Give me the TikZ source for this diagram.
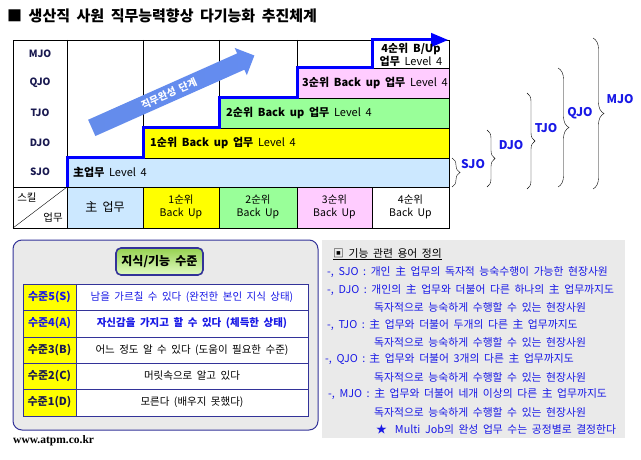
\documentclass[tikz,border=0pt]{standalone}
\usepackage{fontspec}
\setmainfont{Noto Sans CJK KR}[WordSpace=1.9]
\newfontfamily\webfont{Liberation Serif}
\usepackage{tikz}
\usetikzlibrary{arrows}
\usetikzlibrary{shapes.arrows}
\usetikzlibrary{decorations.pathreplacing}

\definecolor{skyfill}{RGB}{204,232,255}
\definecolor{yelfill}{RGB}{255,255,0}
\definecolor{grnfill}{RGB}{153,255,153}
\definecolor{pnkfill}{RGB}{255,204,255}
\definecolor{navy}{RGB}{51,51,153}
\definecolor{txtblue}{RGB}{25,25,230}
\definecolor{rowlab}{RGB}{25,25,80}
\definecolor{panel}{RGB}{234,234,234}

\begin{document}
\begin{tikzpicture}[x=1pt,y=-1pt,
	rowname/.style={font=\fontsize{10}{12}\selectfont\bfseries,text=rowlab},
	bartxt/.style={anchor=west,inner sep=0pt,font=\fontsize{11}{13}\selectfont},
	headtxt/.style={align=center,inner sep=0pt,font=\fontsize{10.5}{13}\selectfont},
	joname/.style={font=\fontsize{12}{14}\selectfont\bfseries,text=txtblue},
	jobrace/.style={decorate,decoration={brace,amplitude=8pt}},
	lvname/.style={font=\fontsize{11}{13}\selectfont\bfseries},
	lvdesc/.style={font=\fontsize{10.5}{12}\selectfont},
	defline/.style={anchor=west,inner sep=0pt,text=txtblue,font=\fontsize{10.8}{12}\selectfont}]

	\useasboundingbox[fill=white] (0,0) rectangle (641,460);

	\node[anchor=west,inner sep=0pt,font=\fontsize{15}{18}\selectfont\bfseries](title) at (7,16) {■ 생산직 사원 직무능력향상 다기능화 추진체계};

	% chart
	\fill[skyfill] (67,158) rectangle (449,187);
	\fill[yelfill] (143,128) rectangle (449,158);
	\fill[grnfill] (219,98) rectangle (449,128);
	\fill[pnkfill] (297,68) rectangle (449,98);
	\fill[skyfill] (67,187) rectangle (143,228);
	\fill[yelfill] (143,187) rectangle (219,228);
	\fill[grnfill] (219,187) rectangle (297,228);
	\fill[pnkfill] (297,187) rectangle (372,228);

	\draw[line width=0.8pt] (13,40) rectangle (449,228);
	\draw (67,40) -- (67,228);
	\draw (13,187) -- (449,187);
	\draw (143,40) -- (143,128) (219,40) -- (219,98) (297,40) -- (297,68);
	\draw (67,158) -- (449,158) (143,128) -- (449,128) (219,98) -- (449,98) (297,68) -- (449,68);
	\draw (143,187) -- (143,228) (219,187) -- (219,228) (297,187) -- (297,228) (372,187) -- (372,228);
	\draw (13,228) -- (67,187);

	\node[rowname](mjo) at (40,54) {MJO};
	\node[rowname](qjo) at (40,83) {QJO};
	\node[rowname](tjo) at (40,113) {TJO};
	\node[rowname](djo) at (40,143) {DJO};
	\node[rowname](sjo) at (40,172) {SJO};

	\node[single arrow,rotate=24,minimum height=178pt,single arrow head extend=6pt,inner sep=4pt,
		left color={rgb,255:red,100;green,140;blue,235},middle color={rgb,255:red,40;green,40;blue,150},
		right color={rgb,255:red,100;green,140;blue,240},text=white,
		font=\fontsize{10}{11}\selectfont\bfseries](stage) at (169,93.5) {직무완성 단계};

	\draw[blue,line width=3pt,-triangle 45] (67,187) |- (143,158) |- (219,128) |- (297,98) |- (372,68) |- (448,40);

	\node[bartxt](bar0) at (73,172) {\textbf{主업무} Level 4};
	\node[bartxt](bar1) at (150,143) {\textbf{1순위 Back up 업무} Level 4};
	\node[bartxt](bar2) at (226,113) {\textbf{2순위 Back up 업무} Level 4};
	\node[bartxt](bar3) at (302,83) {\textbf{3순위 Back up 업무} Level 4};
	\node[align=center,inner sep=0pt,font=\fontsize{11}{13.5}\selectfont](bar4) at (411,55) {\textbf{4순위 B/Up}\\\textbf{업무} Level 4};

	\node[font=\fontsize{10.5}{12}\selectfont](skill) at (27,198) {스킬};
	\node[font=\fontsize{10.5}{12}\selectfont](work) at (53,218) {업무};
	\node[font=\fontsize{12}{14}\selectfont](head0) at (105,207) {主 업무};
	\node[headtxt](head1) at (181,207) {1순위\\Back Up};
	\node[headtxt](head2) at (258,207) {2순위\\Back Up};
	\node[headtxt](head3) at (334.5,207) {3순위\\Back Up};
	\node[headtxt](head4) at (410.5,207) {4순위\\Back Up};

	% braces
	\coordinate (sjotop) at (452,158); \coordinate (sjobot) at (452,187);
	\coordinate (djotop) at (487,130); \coordinate (djobot) at (487,187);
	\coordinate (tjotop) at (527,93); \coordinate (tjobot) at (527,189);
	\coordinate (qjotop) at (558,68); \coordinate (qjobot) at (558,187);
	\coordinate (mjotop) at (593,38); \coordinate (mjobot) at (593,189);
	\draw[jobrace] (sjotop) -- (sjobot);
	\draw[jobrace] (djotop) -- (djobot);
	\draw[jobrace] (tjotop) -- (tjobot);
	\draw[jobrace,decoration={amplitude=11pt}] (qjotop) -- (qjobot);
	\draw[jobrace,decoration={amplitude=11pt}] (mjotop) -- (mjobot);
	\node[joname](sjoname) at (473,164) {SJO};
	\node[joname](djoname) at (511,145) {DJO};
	\node[joname](tjoname) at (546,128) {TJO};
	\node[joname](qjoname) at (580,113) {QJO};
	\node[joname](mjoname) at (620,99) {MJO};

	% level table
	\draw[navy,fill=panel,rounded corners=9pt,line width=1pt] (13,240) rectangle (318,430);
	\node[draw=navy,line width=1.6pt,rounded corners=5pt,top color={rgb,255:red,150;green,210;blue,80},
		bottom color={rgb,255:red,225;green,250;blue,195},minimum width=87pt,minimum height=27pt,
		font=\fontsize{12}{14}\selectfont\bfseries](lvtitle) at (159.5,261.5) {지식/기능 수준};
	\fill[yelfill] (23,284) rectangle (76,416);
	\fill[white] (76,284) rectangle (308,416);
	\draw[navy,line width=1pt] (23,284) rectangle (308,416);
	\draw[navy,line width=1pt] (76,284) -- (76,416);
	\draw[navy,line width=1pt] (23,310) -- (308,310) (23,337) -- (308,337) (23,363) -- (308,363) (23,389) -- (308,389);

	\node[lvname,text=txtblue](lv5) at (49.5,297) {수준5(S)};
	\node[lvname,text=txtblue](lv4) at (49.5,323.5) {수준4(A)};
	\node[lvname,text=rowlab](lv3) at (49.5,350) {수준3(B)};
	\node[lvname,text=rowlab](lv2) at (49.5,376) {수준2(C)};
	\node[lvname,text=rowlab](lv1) at (49.5,402.5) {수준1(D)};
	\node[lvdesc,text=txtblue](desc5) at (192,297) {남을 가르칠 수 있다 (완전한 본인 지식 상태)};
	\node[lvdesc,text=txtblue,font=\fontsize{10.5}{12}\selectfont\bfseries](desc4) at (192,323.5) {자신감을 가지고 할 수 있다 (체득한 상태)};
	\node[lvdesc](desc3) at (192,350) {어느 정도 알 수 있다 (도움이 필요한 수준)};
	\node[lvdesc](desc2) at (192,376) {머릿속으로 알고 있다};
	\node[lvdesc](desc1) at (192,402.5) {모른다 (배우지 못했다)};

	\node[anchor=west,inner sep=0pt,font=\webfont\fontsize{11.5}{13}\selectfont\bfseries](web) at (13,441) {www.atpm.co.kr};

	% definitions
	\fill[panel] (322,240) rectangle (625,438);
	\node[anchor=west,inner sep=0pt,font=\fontsize{10.8}{12}\selectfont](defhead) at (333,254) {\underline{▣ 기능 관련 용어 정의}};
	\node[defline](def1) at (327,272) {-, SJO : 개인 主 업무의 독자적 능숙수행이 가능한 현장사원};
	\node[defline](def2) at (327,290) {-, DJO : 개인의 主 업무와 더불어 다른 하나의 主 업무까지도};
	\node[defline](def2b) at (374,307) {독자적으로 능숙하게 수행할 수 있는 현장사원};
	\node[defline](def3) at (327,325) {-, TJO : 主 업무와 더불어 두개의 다른 主 업무까지도};
	\node[defline](def3b) at (374,342) {독자적으로 능숙하게 수행할 수 있는 현장사원};
	\node[defline](def4) at (325,359) {-, QJO :\hspace{4pt}主 업무와 더불어 3개의 다른 主 업무까지도};
	\node[defline](def4b) at (374,377) {독자적으로 능숙하게 수행할 수 있는 현장사원};
	\node[defline](def5) at (328,394) {-, MJO : 主 업무와 더불어 네개 이상의 다른 主 업무까지도};
	\node[defline](def5b) at (374,412) {독자적으로 능숙하게 수행할 수 있는 현장사원};
	\node[defline](def6) at (376,429) {★\hspace{8pt}Multi Job의 완성 업무 수는 공정별로 결정한다};
\end{tikzpicture}
\end{document}
